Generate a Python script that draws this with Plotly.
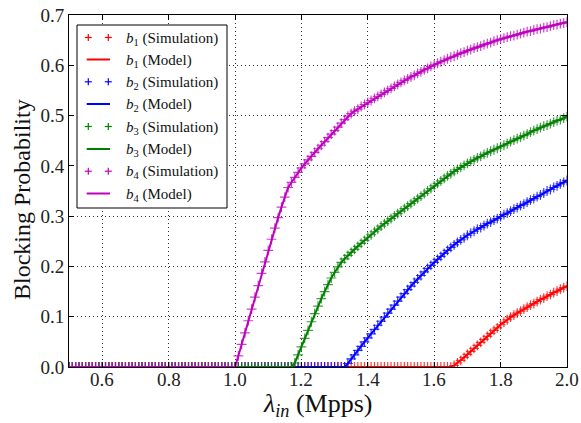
import numpy as np
import plotly.graph_objects as go

# Offered load grid (Mpps), step 0.01
lambda_in = np.round(np.linspace(0.5, 2.0, 151), 2)

# Blocking probability per stage (simulation agrees with the model)
b1 = [0.0] * 116 + [
    0.003, 0.008, 0.013, 0.019, 0.025, 0.031, 0.037, 0.043, 0.049, 0.055,
    0.061, 0.067, 0.073, 0.078, 0.084, 0.089, 0.094, 0.099, 0.103, 0.107,
    0.111, 0.115, 0.119, 0.123, 0.126, 0.130, 0.134, 0.137, 0.141, 0.144,
    0.148, 0.151, 0.155, 0.158, 0.161,
]
b2 = [0.0] * 84 + [
    0.007, 0.016, 0.024, 0.033, 0.041, 0.050, 0.058, 0.066, 0.075, 0.083,
    0.091, 0.099, 0.107, 0.115, 0.123, 0.131, 0.139, 0.146, 0.154, 0.161,
    0.168, 0.175, 0.182, 0.189, 0.196, 0.202, 0.208, 0.214, 0.220, 0.226,
    0.232, 0.238, 0.243, 0.248, 0.253, 0.257, 0.262, 0.266, 0.270, 0.274,
    0.277, 0.281, 0.285, 0.288, 0.292, 0.295, 0.299, 0.303, 0.306, 0.310,
    0.314, 0.317, 0.321, 0.324, 0.328, 0.332, 0.335, 0.339, 0.342, 0.346,
    0.350, 0.353, 0.357, 0.360, 0.364, 0.367, 0.371,
]
b3 = [0.0] * 68 + [
    0.008, 0.024, 0.040, 0.057, 0.073, 0.090, 0.106, 0.121, 0.136, 0.150,
    0.164, 0.177, 0.188, 0.199, 0.208, 0.215, 0.222, 0.228, 0.234, 0.240,
    0.246, 0.252, 0.258, 0.263, 0.269, 0.274, 0.280, 0.285, 0.290, 0.295,
    0.300, 0.305, 0.310, 0.315, 0.320, 0.325, 0.330, 0.335, 0.340, 0.345,
    0.350, 0.355, 0.360, 0.365, 0.370, 0.375, 0.380, 0.384, 0.389, 0.393,
    0.397, 0.401, 0.405, 0.409, 0.412, 0.416, 0.419, 0.423, 0.426, 0.429,
    0.432, 0.435, 0.438, 0.441, 0.444, 0.448, 0.451, 0.454, 0.457, 0.460,
    0.463, 0.467, 0.470, 0.473, 0.476, 0.479, 0.481, 0.484, 0.487, 0.490,
    0.492, 0.495, 0.498,
]
b4 = [0.0] * 51 + [
    0.022, 0.045, 0.068, 0.092, 0.115, 0.139, 0.162, 0.186, 0.209, 0.232,
    0.254, 0.276, 0.297, 0.318, 0.338, 0.357, 0.367, 0.377, 0.387, 0.396,
    0.404, 0.412, 0.419, 0.427, 0.434, 0.441, 0.448, 0.456, 0.463, 0.470,
    0.477, 0.485, 0.492, 0.499, 0.504, 0.509, 0.513, 0.518, 0.522, 0.526,
    0.530, 0.534, 0.538, 0.542, 0.546, 0.550, 0.554, 0.558, 0.562, 0.566,
    0.570, 0.573, 0.577, 0.580, 0.584, 0.587, 0.591, 0.594, 0.598, 0.601,
    0.604, 0.607, 0.610, 0.613, 0.616, 0.618, 0.621, 0.624, 0.626, 0.629,
    0.631, 0.634, 0.636, 0.638, 0.641, 0.643, 0.645, 0.648, 0.650, 0.652,
    0.654, 0.656, 0.658, 0.659, 0.661, 0.663, 0.665, 0.667, 0.668, 0.670,
    0.672, 0.673, 0.675, 0.676, 0.678, 0.680, 0.681, 0.683, 0.684, 0.686,
]

series = [("1", b1, "#ff0000"), ("2", b2, "#0000ff"),
          ("3", b3, "#008000"), ("4", b4, "#bf00bf")]

x_ticks = [0.6, 0.8, 1.0, 1.2, 1.4, 1.6, 1.8, 2.0]
y_ticks = [0.0, 0.1, 0.2, 0.3, 0.4, 0.5, 0.6, 0.7]

SERIF = "Liberation Serif"
W, H = 581, 423
ML, MR, MT, MB = 69, 14, 15, 56
PW, PH = W - ML - MR, H - MT - MB


def px(xp):
    return (xp - ML) / PW


def py(yp):
    return (H - MB - yp) / PH


fig = go.Figure()
for idx, vals, col in series:
    fig.add_trace(go.Scatter(
        x=lambda_in, y=vals, mode="markers", showlegend=False,
        marker=dict(symbol="cross-thin", size=7,
                    line=dict(color=col, width=1.2), opacity=0.75),
    ))
    fig.add_trace(go.Scatter(
        x=lambda_in, y=vals, mode="lines", showlegend=False,
        line=dict(color=col, width=2),
    ))

# Hand-drawn legend box (two "+" glyphs per simulation row)
shapes = [dict(type="rect", xref="paper", yref="paper",
               x0=px(77), x1=px(227), y0=py(208), y1=py(25),
               line=dict(color="#000", width=1), fillcolor="white", layer="above")]
annotations = []
row_y = [37.5, 59.5, 81.8, 104.0, 126.5, 149.0, 171.2, 193.5]
r = 0
for idx, vals, col in series:
    for kind in ("Simulation", "Model"):
        yc = row_y[r]
        if kind == "Simulation":
            for xc in (88.3, 108.3):
                shapes.append(dict(type="line", xref="paper", yref="paper",
                                   x0=px(xc - 3.5), x1=px(xc + 3.5), y0=py(yc), y1=py(yc),
                                   line=dict(color=col, width=1.2), layer="above"))
                shapes.append(dict(type="line", xref="paper", yref="paper",
                                   x0=px(xc), x1=px(xc), y0=py(yc - 3.5), y1=py(yc + 3.5),
                                   line=dict(color=col, width=1.2), layer="above"))
        else:
            shapes.append(dict(type="line", xref="paper", yref="paper",
                               x0=px(86.7), x1=px(110), y0=py(yc), y1=py(yc),
                               line=dict(color=col, width=2), layer="above"))
        annotations.append(dict(
            xref="paper", yref="paper", x=px(124), y=py(yc + 1),
            xanchor="left", yanchor="middle", showarrow=False,
            text=f"<i>b</i><sub>{idx}</sub> ({kind})",
            font=dict(family=SERIF, size=15, color="#111")))
        r += 1

# x tick labels, placed on the x axis scale just under the frame
for v in x_ticks:
    annotations.append(dict(
        xref="x", yref="paper", x=v, y=py(379),
        xanchor="center", yanchor="middle", showarrow=False,
        text=f"{v:.1f}", font=dict(family=SERIF, size=19, color="#222")))

annotations.append(dict(
    xref="paper", yref="paper", x=px(22), y=py(200), textangle=-90,
    xanchor="center", yanchor="middle", showarrow=False,
    text="Blocking Probability", font=dict(family=SERIF, size=24, color="#111")))
annotations.append(dict(
    xref="paper", yref="paper", x=px(317), y=py(387),
    xanchor="center", yanchor="top", showarrow=False,
    text="<i>λ</i><sub><i>in</i></sub> (Mpps)",
    font=dict(family=SERIF, size=26, color="#111")))

axis_common = dict(
    showline=True, linecolor="#000", linewidth=1, mirror="ticks",
    ticks="inside", ticklen=5, tickwidth=1, tickcolor="#000",
    showgrid=True, gridcolor="#333", gridwidth=1, griddash="1px,3px",
    zeroline=False, automargin=False,
    tickfont=dict(family=SERIF, size=19, color="#222"),
)
fig.update_xaxes(range=[0.5, 2.0], tickvals=x_ticks, showticklabels=False,
                 **axis_common)
fig.update_yaxes(range=[0.0, 0.7], tickvals=y_ticks,
                 ticktext=[f"{v:.1f}" for v in y_ticks], **axis_common)

fig.update_layout(
    width=W, height=H, margin=dict(l=ML, r=MR, t=MT, b=MB),
    paper_bgcolor="white", plot_bgcolor="white",
    shapes=shapes, annotations=annotations, showlegend=False,
)

fig.write_html("out.html")
